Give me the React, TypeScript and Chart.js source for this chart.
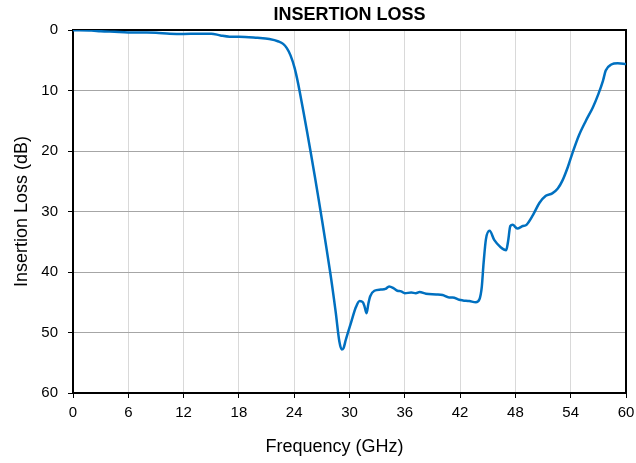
import React, { useEffect, useRef } from "react";
import { Chart, registerables } from "chart.js";

Chart.register(...registerables);

const TITLE = "INSERTION LOSS";
const X_TITLE = "Frequency (GHz)";
const Y_TITLE = "Insertion Loss (dB)";

const FREQ_GHZ = [
  0, 2, 3, 4.5, 6, 8, 9, 10.5, 12, 13.5, 15, 16, 17, 18, 20, 21.3, 22.3, 22.8,
  23.2, 23.6, 24.05, 24.6, 27.9, 28.5, 28.9,
  29.15, 29.35, 29.6, 30.2, 30.7, 31.1, 31.45, 31.65, 31.85, 32.05, 32.25,
  32.7, 33.4, 33.9, 34.3, 34.8, 35.2, 35.6, 36.0, 36.7, 37.2, 37.6, 38.3,
  39.4, 40.1, 40.8, 41.2, 41.9, 42.3, 43.0, 43.7, 44.1, 44.35, 44.55, 44.8,
  45.2, 45.7, 46.4, 47.0, 47.2, 47.45, 47.7, 48.2, 48.8, 49.2, 49.9, 50.6,
  51.3, 52.0, 52.6, 53.1, 53.7, 54.2, 54.9, 55.65, 56.4, 57.0, 57.5, 57.8,
  58.4, 59.1, 60,
];

const LOSS_DB = [
  0.05, 0.1, 0.2, 0.3, 0.4, 0.4, 0.45, 0.6, 0.65, 0.6, 0.6, 0.9, 1.1, 1.1, 1.3,
  1.5, 1.9, 2.3, 3.0, 4.2, 6.3, 10.2, 40, 46.6, 51.5,
  52.8, 52.6, 51.2, 48.2, 45.8, 44.8, 45.0, 45.8, 46.8, 45.2, 44.0, 43.1, 42.9,
  42.8, 42.4, 42.7, 43.1, 43.2, 43.5, 43.4, 43.5, 43.3, 43.6, 43.7, 43.8, 44.2,
  44.2, 44.6, 44.7, 44.8, 45.0, 44.5, 42.5, 38.5, 34.6, 33.2, 34.7, 35.9, 36.4,
  35.0, 32.4, 32.2, 32.8, 32.4, 32.2, 30.6, 28.6, 27.4, 27.0, 26.2, 24.9, 22.6,
  20.3, 17.4, 15.0, 12.8, 10.6, 8.4, 6.7, 5.7, 5.5, 5.6,
];

const X_MIN = 0;
const X_MAX = 60;
const X_STEP = 6;
const Y_MIN = 0;
const Y_MAX = 60;
const Y_STEP = 10;

const FONT = '"Liberation Sans", Arial, sans-serif';

const framePlugin = {
  id: "frame",
  beforeDatasetsDraw(chart: any) {
    const { ctx, chartArea } = chart;
    const { left, right, top, bottom } = chartArea;
    ctx.save();
    ctx.strokeStyle = "#000";
    ctx.lineWidth = 2;
    ctx.beginPath();
    ctx.moveTo(left - 1, top);
    ctx.lineTo(right, top);
    ctx.lineTo(right, bottom + 1);
    ctx.stroke();
    ctx.restore();
  },
};

const axisTitlePlugin = {
  id: "axisTitles",
  afterDraw(chart: any) {
    const { ctx, chartArea } = chart;
    const { left, right, top, bottom } = chartArea;
    ctx.save();
    ctx.fillStyle = "#000";
    ctx.font = `18px ${FONT}`;
    ctx.textAlign = "center";
    ctx.textBaseline = "alphabetic";
    ctx.fillText(X_TITLE, (left + right) / 2 - 15, bottom + 59);
    ctx.translate(left - 46, (top + bottom) / 2);
    ctx.rotate(-Math.PI / 2);
    ctx.fillText(Y_TITLE, 0, 0);
    ctx.restore();
  },
};

export default function App() {
  const ref = useRef<HTMLCanvasElement | null>(null);

  useEffect(() => {
    if (!ref.current) return;
    const points = FREQ_GHZ.map((f, i) => ({ x: f, y: LOSS_DB[i] }));
    const tickFont = { family: FONT, size: 15 };
    const chart = new Chart(ref.current, {
      type: "line",
      data: {
        datasets: [
          {
            data: points,
            borderColor: "#0070C0",
            borderWidth: 2.5,
            pointRadius: 0,
            fill: false,
            cubicInterpolationMode: "monotone",
          },
        ],
      },
      options: {
        responsive: false,
        animation: false,
        layout: { padding: { left: 0, right: 10, top: 0, bottom: 0 } },
        plugins: {
          legend: { display: false },
          tooltip: { enabled: false },
          title: {
            display: true,
            text: TITLE,
            fullSize: false,
            color: "#000",
            font: { family: FONT, size: 18, weight: "bold", lineHeight: 1.2 },
            padding: { top: 4, bottom: 4.4 },
          },
        },
        scales: {
          x: {
            type: "linear",
            min: X_MIN,
            max: X_MAX,
            ticks: {
              stepSize: X_STEP,
              color: "#000",
              font: tickFont,
              padding: 6,
              maxRotation: 0,
              autoSkip: false,
            },
            grid: {
              color: "#d9d9d9",
              lineWidth: 1,
              tickLength: 5,
              tickColor: "#000",
            },
            border: { color: "#000", width: 2 },
            afterFit: (s: any) => {
              s.height = 70;
              s.paddingLeft = 0;
              s.paddingRight = 0;
            },
          },
          y: {
            type: "linear",
            min: Y_MIN,
            max: Y_MAX,
            reverse: true,
            ticks: {
              stepSize: Y_STEP,
              color: "#000",
              font: tickFont,
              padding: 10,
            },
            grid: {
              color: "#a6a6a6",
              lineWidth: 1,
              tickLength: 5,
              tickColor: "#000",
            },
            border: { color: "#000", width: 2 },
            afterFit: (s: any) => {
              s.width = 73;
              s.paddingTop = 0;
              s.paddingBottom = 0;
            },
          },
        },
      },
      plugins: [framePlugin, axisTitlePlugin],
    } as any);
    return () => chart.destroy();
  }, []);

  return (
    <div style={{ position: "fixed", left: 0, top: 0, width: 636, height: 463, background: "#fff" }}>
      <canvas ref={ref} width={636} height={463} style={{ display: "block" }} />
    </div>
  );
}
